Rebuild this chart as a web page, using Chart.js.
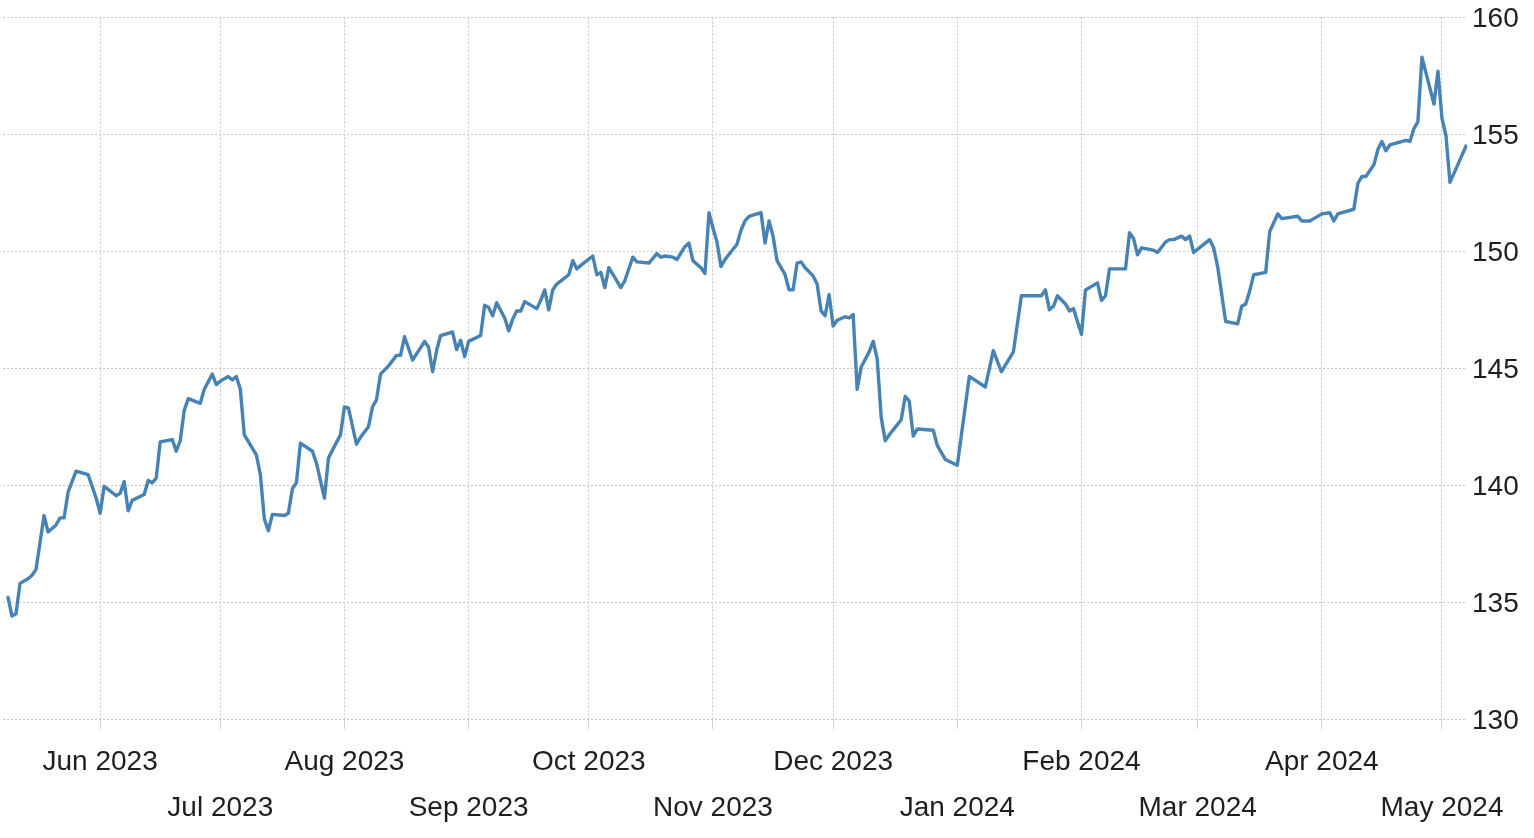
<!DOCTYPE html>
<html>
<head>
<meta charset="utf-8">
<script src="https://cdn.jsdelivr.net/npm/chart.js@4"></script>
<style>
html,body{margin:0;padding:0;background:#fff;}
#wrap{width:1534px;height:838px;}
</style>
</head>
<body>
<div id="wrap"><canvas id="c" width="1534" height="838"></canvas></div>
<script>
const dates = [
"2023-05-09","2023-05-10","2023-05-11","2023-05-12","2023-05-14","2023-05-15","2023-05-16","2023-05-18","2023-05-19","2023-05-21",
"2023-05-22","2023-05-23","2023-05-24","2023-05-26","2023-05-29","2023-05-31","2023-06-01","2023-06-02","2023-06-05","2023-06-06",
"2023-06-07","2023-06-08","2023-06-09","2023-06-12","2023-06-13","2023-06-14","2023-06-15","2023-06-16","2023-06-19","2023-06-20",
"2023-06-21","2023-06-22","2023-06-23","2023-06-26","2023-06-27","2023-06-29","2023-06-30","2023-07-01","2023-07-03","2023-07-04",
"2023-07-05","2023-07-06","2023-07-07","2023-07-10","2023-07-11","2023-07-12","2023-07-13","2023-07-14","2023-07-17","2023-07-18",
"2023-07-19","2023-07-20","2023-07-21","2023-07-24","2023-07-25","2023-07-27","2023-07-28","2023-07-29","2023-07-31","2023-08-01",
"2023-08-02","2023-08-04","2023-08-05","2023-08-07","2023-08-08","2023-08-09","2023-08-10","2023-08-12","2023-08-14","2023-08-15",
"2023-08-16","2023-08-18","2023-08-21","2023-08-22","2023-08-23","2023-08-24","2023-08-25","2023-08-28","2023-08-29","2023-08-30",
"2023-08-31","2023-09-01","2023-09-04","2023-09-05","2023-09-06","2023-09-07","2023-09-08","2023-09-10","2023-09-11","2023-09-12",
"2023-09-13","2023-09-14","2023-09-15","2023-09-18","2023-09-19","2023-09-20","2023-09-21","2023-09-22","2023-09-23","2023-09-26",
"2023-09-27","2023-09-28","2023-09-29","2023-10-02","2023-10-03","2023-10-04","2023-10-05","2023-10-06","2023-10-09","2023-10-10",
"2023-10-12","2023-10-13","2023-10-16","2023-10-18","2023-10-19","2023-10-20","2023-10-22","2023-10-23","2023-10-25","2023-10-26",
"2023-10-27","2023-10-29","2023-10-30","2023-10-31","2023-11-01","2023-11-02","2023-11-03","2023-11-04","2023-11-07","2023-11-08",
"2023-11-09","2023-11-10","2023-11-12","2023-11-13","2023-11-14","2023-11-15","2023-11-16","2023-11-17","2023-11-19","2023-11-20",
"2023-11-21","2023-11-22","2023-11-23","2023-11-24","2023-11-26","2023-11-27","2023-11-28","2023-11-29","2023-11-30","2023-12-01",
"2023-12-02","2023-12-04","2023-12-05","2023-12-06","2023-12-07","2023-12-08","2023-12-10","2023-12-11","2023-12-12","2023-12-13",
"2023-12-14","2023-12-15","2023-12-18","2023-12-19","2023-12-20","2023-12-21","2023-12-22","2023-12-26","2023-12-27","2023-12-29",
"2024-01-01","2024-01-04","2024-01-08","2024-01-10","2024-01-12","2024-01-15","2024-01-17","2024-01-18","2024-01-22","2024-01-23",
"2024-01-24","2024-01-25","2024-01-26","2024-01-28","2024-01-29","2024-01-30","2024-02-01","2024-02-02","2024-02-05","2024-02-06",
"2024-02-07","2024-02-08","2024-02-12","2024-02-13","2024-02-14","2024-02-15","2024-02-16","2024-02-19","2024-02-20","2024-02-22",
"2024-02-23","2024-02-24","2024-02-26","2024-02-27","2024-02-28","2024-02-29","2024-03-04","2024-03-05","2024-03-06","2024-03-08",
"2024-03-11","2024-03-12","2024-03-13","2024-03-14","2024-03-15","2024-03-18","2024-03-19","2024-03-21","2024-03-22","2024-03-26",
"2024-03-27","2024-03-29","2024-03-30","2024-04-01","2024-04-03","2024-04-04","2024-04-05","2024-04-09","2024-04-10","2024-04-11",
"2024-04-12","2024-04-14","2024-04-15","2024-04-16","2024-04-17","2024-04-18","2024-04-22","2024-04-23","2024-04-24","2024-04-25",
"2024-04-26","2024-04-29","2024-04-30","2024-05-01","2024-05-02","2024-05-03","2024-05-07"
];
const values = [
135.2,134.4,134.5,135.8,136.0,136.15,136.4,138.7,138.0,138.3,
138.6,138.6,139.7,140.6,140.45,139.45,138.8,139.95,139.55,139.65,
140.15,138.9,139.35,139.6,140.2,140.1,140.3,141.85,141.95,141.45,
141.9,143.2,143.7,143.5,144.1,144.75,144.3,144.45,144.65,144.5,
144.65,144.1,142.15,141.3,140.45,138.55,138.05,138.75,138.7,138.8,
139.85,140.1,141.8,141.45,140.95,139.45,141.15,141.5,142.15,143.35,
143.3,141.75,142.05,142.5,143.35,143.65,144.75,145.1,145.55,145.55,
146.35,145.35,146.15,145.9,144.85,145.75,146.4,146.55,145.8,146.2,
145.5,146.15,146.4,147.7,147.6,147.25,147.8,147.15,146.6,147.1,
147.45,147.45,147.85,147.55,147.9,148.35,147.5,148.35,148.6,149.0,
149.6,149.25,149.4,149.8,149.0,149.1,148.45,149.3,148.45,148.75,
149.75,149.55,149.5,149.9,149.75,149.8,149.75,149.65,150.2,150.35,
149.6,149.3,149.05,151.65,151.0,150.4,149.35,149.65,150.3,150.9,
151.3,151.5,151.6,151.65,150.35,151.3,150.65,149.6,149.0,148.35,
148.35,149.5,149.55,149.3,148.95,148.6,147.45,147.25,148.15,146.8,
147.05,147.2,147.15,147.3,144.1,145.05,145.7,146.15,145.4,142.9,
141.9,142.15,142.8,143.8,143.6,142.1,142.4,142.35,141.7,141.1,
140.85,144.65,144.2,145.75,144.85,145.7,148.1,148.1,148.1,148.35,
147.5,147.65,148.1,147.75,147.45,147.55,146.45,148.35,148.65,147.9,
148.1,149.25,149.25,150.8,150.55,149.85,150.15,150.05,149.95,150.4,
150.5,150.5,150.65,150.5,150.65,149.95,150.5,150.15,149.35,147.0,
146.9,147.65,147.75,148.3,149.0,149.1,150.85,151.6,151.4,151.5,
151.3,151.3,151.4,151.6,151.65,151.3,151.6,151.8,152.9,153.2,
153.2,153.7,154.35,154.7,154.3,154.55,154.75,154.7,155.25,155.55,
158.3,156.3,157.7,155.7,154.95,152.95,154.5
];
const monthStarts = ["2023-06-01","2023-07-01","2023-08-01","2023-09-01","2023-10-01","2023-11-01",
"2023-12-01","2024-01-01","2024-02-01","2024-03-01","2024-04-01","2024-05-01"];
const monthLabels = ["Jun 2023","Jul 2023","Aug 2023","Sep 2023","Oct 2023","Nov 2023",
"Dec 2023","Jan 2024","Feb 2024","Mar 2024","Apr 2024","May 2024"];
const yTicks = [130,135,140,145,150,155,160];

const EPOCH = Date.UTC(2023,4,1);
function dayOf(s){const p=s.split('-').map(Number);return (Date.UTC(p[0],p[1]-1,p[2])-EPOCH)/86400000;}
const points = dates.map((d,i)=>({x:dayOf(d),y:values[i]}));
const tickDays = monthStarts.map(dayOf);

const FAMILY = "'Liberation Sans', Arial, sans-serif";
const GRID = '#c6c6c6';

new Chart(document.getElementById('c'), {
  type:'line',
  data:{datasets:[{data:points,borderColor:'#4682b4',borderWidth:3.4,pointRadius:0,tension:0,fill:false,borderJoinStyle:'round',borderCapStyle:'round'}]},
  options:{
    responsive:false,animation:false,
    layout:{padding:{left:3,top:17.5,right:0,bottom:0}},
    plugins:{legend:{display:false},tooltip:{enabled:false}},
    scales:{
      x:{type:'linear',min:6.75,max:372.25,
        afterBuildTicks:(s)=>{s.ticks=tickDays.map(v=>({value:v}));},
        afterFit:(s)=>{s.height=119;},
        grid:{color:GRID,lineWidth:1,tickLength:10,tickColor:'#d4d4d4',tickBorderDash:[]},
        border:{display:false,dash:[2,2]},
        ticks:{autoSkip:false,maxRotation:0,minRotation:0,padding:10,color:'#1e1e1e',
          font:{family:FAMILY,size:28,lineHeight:1.64},
          callback:(v,i)=>{const l=monthLabels[i]||'';return i%2===0?[l,'']:['',l];}}
      },
      y:{position:'right',min:130,max:160,
        afterBuildTicks:(s)=>{s.ticks=yTicks.map(v=>({value:v}));},
        afterFit:(s)=>{s.width=67;s.paddingTop=0;s.paddingBottom=0;},
        grid:{color:GRID,lineWidth:1,drawTicks:false},
        border:{display:false,dash:[2,2]},
        ticks:{padding:5,labelOffset:2,color:'#1e1e1e',font:{family:FAMILY,size:28}}
      }
    }
  }
});
</script>
</body>
</html>
